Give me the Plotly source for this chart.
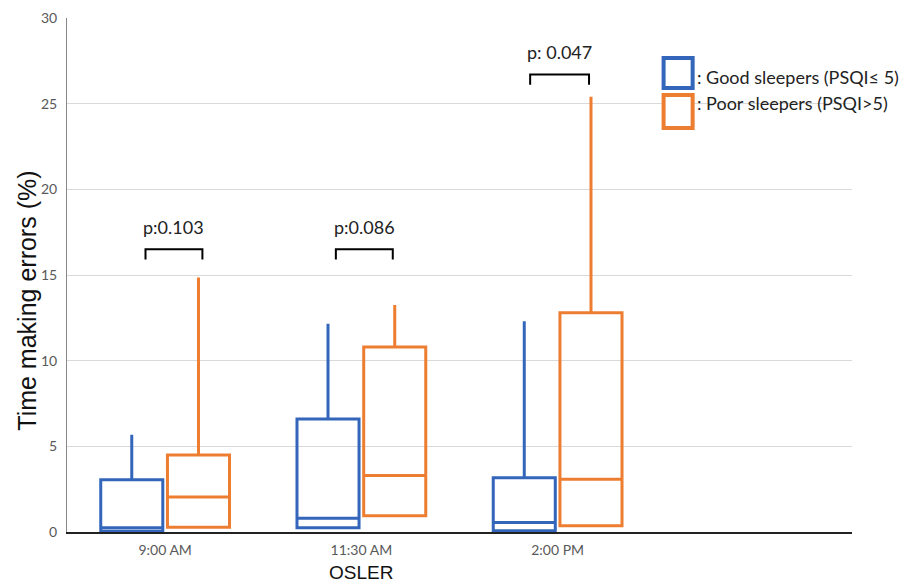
import plotly.graph_objects as go

# ---- data ----
categories = ["9:00 AM", "11:30 AM", "2:00 PM", ""]
x_idx = [0, 1, 2]
good_q1 = [0.05, 0.25, 0.08]
good_median = [0.25, 0.8, 0.55]
good_q3 = [3.05, 6.6, 3.17]
good_upper = [5.67, 12.15, 12.3]

poor_q1 = [0.27, 0.95, 0.37]
poor_median = [2.05, 3.3, 3.08]
poor_q3 = [4.5, 10.8, 12.8]
poor_upper = [14.85, 13.25, 25.4]

p_labels = ["p:0.103", "p:0.086", "p: 0.047"]
p_level = [16.5, 16.5, 26.7]

BLUE = "#3366BB"
ORANGE = "#ED7D31"
LABEL_FONT = "Lato, Liberation Sans, sans-serif"

fig = go.Figure()
fig.add_trace(go.Box(
    x=x_idx, q1=good_q1, median=good_median, q3=good_q3,
    lowerfence=good_q1, upperfence=good_upper,
    name="Good sleepers", line=dict(color=BLUE, width=3),
    fillcolor="rgba(255,255,255,0)", whiskerwidth=0, boxpoints=False,
    hoverinfo="y"))
fig.add_trace(go.Box(
    x=x_idx, q1=poor_q1, median=poor_median, q3=poor_q3,
    lowerfence=poor_q1, upperfence=poor_upper,
    name="Poor sleepers", line=dict(color=ORANGE, width=3),
    fillcolor="rgba(255,255,255,0)", whiskerwidth=0, boxpoints=False,
    hoverinfo="y"))

# significance brackets
br_left = [-0.10, -0.13, -0.14]
br_right = [0.19, 0.16, 0.16]
for i in range(3):
    top = p_level[i]
    drop = 0.6
    fig.add_trace(go.Scatter(
        x=[x_idx[i] + br_left[i], x_idx[i] + br_left[i], x_idx[i] + br_right[i], x_idx[i] + br_right[i]],
        y=[top - drop, top, top, top - drop],
        mode="lines", line=dict(color="black", width=2),
        showlegend=False, hoverinfo="skip"))
    fig.add_annotation(
        x=x_idx[i] + (br_left[i] + br_right[i]) / 2, y=top + 1.3,
        text=p_labels[i], showarrow=False,
        font=dict(family=LABEL_FONT, size=18, color="#222222"))

# custom legend (paper coordinates)
leg = [
    (": Good sleepers (PSQI≤ 5)", BLUE, 0.864, 0.922, 0.885),
    (": Poor sleepers (PSQI>5)", ORANGE, 0.786, 0.850, 0.835),
]
for text, col, y0, y1, yt in leg:
    fig.add_shape(type="rect", xref="paper", yref="paper",
                  x0=0.760, x1=0.797, y0=y0, y1=y1,
                  line=dict(color=col, width=4), fillcolor="white")
    fig.add_annotation(xref="paper", yref="paper", x=0.800, y=yt,
                       xanchor="left", yanchor="middle", text=text, showarrow=False,
                       font=dict(family=LABEL_FONT, size=18, color="#222222"))

# x-axis title under the middle category
fig.add_annotation(x=1, xref="x", y=-0.078, yref="paper", yanchor="middle",
                   text="OSLER", showarrow=False,
                   font=dict(family="Liberation Sans, Arial, sans-serif", size=19, color="#111111"))

# y-axis title
fig.add_annotation(x=0, xref="paper", xshift=-40, y=0.45, yref="paper",
                   xanchor="center", yanchor="middle", textangle=-90,
                   text="Time making errors (%)", showarrow=False,
                   font=dict(family="Liberation Sans, Arial, sans-serif", size=25, color="#111111"))

fig.update_layout(
    width=908, height=578,
    margin=dict(l=59, r=64, t=10, b=54, autoexpand=False),
    paper_bgcolor="white", plot_bgcolor="white",
    boxmode="group", boxgap=0.32, boxgroupgap=0.07,
    showlegend=False,
    xaxis=dict(
        range=[-0.5, 3.5], tickmode="array", tickvals=[0, 1, 2, 3], ticktext=categories,
        showgrid=False, zeroline=False, showline=True, linecolor="#222222", linewidth=1.5,
        ticks="", automargin=False, ticklabelstandoff=4,
        tickfont=dict(family=LABEL_FONT, size=14, color="#595959")),
    yaxis=dict(
        range=[0, 30], tickvals=[0, 5, 10, 15, 20, 25, 30],
        showgrid=True, gridcolor="#d9d9d9", gridwidth=1,
        zeroline=False, showline=True, linecolor="#888888", linewidth=1,
        ticks="", automargin=False, ticklabelstandoff=6,
        tickfont=dict(family=LABEL_FONT, size=14, color="#595959")),
)

fig.write_html("out.html")
